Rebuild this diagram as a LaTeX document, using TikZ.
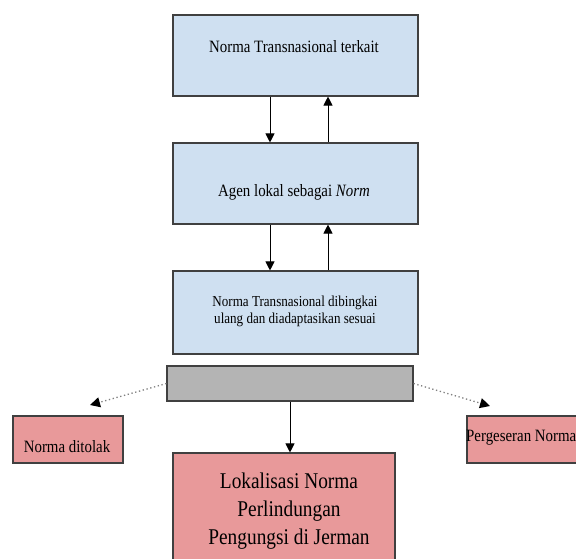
\documentclass[tikz,border=0pt]{standalone}
\usepackage{fontspec}
\setmainfont{Liberation Serif}
\newfontfamily\narrowserif[FakeStretch=0.86]{Liberation Serif}
\usetikzlibrary{arrows.meta,calc}
\definecolor{boxblue}{RGB}{207,224,241}
\definecolor{boxpink}{RGB}{232,153,154}
\definecolor{boxgray}{RGB}{180,180,180}
\definecolor{edgegray}{RGB}{64,64,64}
\tikzset{
  bluebox/.style={draw=edgegray,line width=1.1pt,fill=boxblue,minimum width=245pt,inner sep=0pt},
  pinkbox/.style={draw=edgegray,line width=1.1pt,fill=boxpink,inner sep=0pt},
  graybox/.style={draw=edgegray,line width=1.1pt,fill=boxgray,inner sep=0pt},
  lbl/.style={inner sep=0pt,font=\narrowserif\fontsize{17.3}{17}\selectfont,align=center},
  arr/.style={line width=1pt,-{Triangle[length=9pt,width=9pt]}},
  dotarr/.style={gray,line width=1.3pt,dash pattern=on 1.3pt off 2.6pt,-{Triangle[length=10pt,width=10pt,color=black,fill=black]}}
}
\begin{document}
\begin{tikzpicture}[x=1pt,y=-1pt]
\useasboundingbox (0,0) rectangle (576,558);
\clip (0,0) rectangle (576,558);
\fill[white] (0,0) rectangle (576,558);
% boxes
\node[bluebox,minimum height=81pt] (b1) at (295.5,55.5) {};
\node[bluebox,minimum height=81pt] (b2) at (295.5,183.5) {};
\node[bluebox,minimum height=83pt] (b3) at (295.5,312.5) {};
\node[graybox,minimum width=246pt,minimum height=35pt] (g) at (290,383.5) {};
\node[pinkbox,minimum width=110pt,minimum height=47pt] (l) at (68,439.5) {};
\node[pinkbox,minimum width=118pt,minimum height=47pt] (r) at (526,439.5) {};
\node[pinkbox,minimum width=222pt,minimum height=117pt] (f) at (284,511.5) {};
% texts
\node[lbl] (t1) at (294,47) {Norma Transnasional terkait};
\node[lbl] (t2) at (294,192) {Agen lokal sebagai \textit{Norm}};
\node[lbl,font=\narrowserif\fontsize{15.2}{17}\selectfont] (t3) at (295,311) {Norma Transnasional dibingkai\\ulang dan diadaptasikan sesuai};
\node[lbl] (tl) at (67,447) {Norma ditolak};
\node[lbl,anchor=west] (tr) at (466,438) {Pergeseran Norma};
\node[lbl,font=\narrowserif\fontsize{22.5}{28}\selectfont] (tf) at (289,511) {Lokalisasi Norma\\Perlindungan\\Pengungsi di Jerman};
% connectors
\coordinate (xl) at (270,0);
\coordinate (xr) at (328,0);
\coordinate (xm) at (290,0);
\draw[arr] (b1.south -| xl) -- (b2.north -| xl);
\draw[arr] (b2.north -| xr) -- (b1.south -| xr);
\draw[arr] (b2.south -| xl) -- (b3.north -| xl);
\draw[arr] (b3.north -| xr) -- (b2.south -| xr);
\draw[arr] (g.south -| xm) -- (f.north -| xm);
\coordinate (dl) at (90,405);
\coordinate (dr) at (490,406);
\draw[dotarr] (g.west) -- (dl);
\draw[dotarr] (g.east) -- (dr);
\end{tikzpicture}
\end{document}
